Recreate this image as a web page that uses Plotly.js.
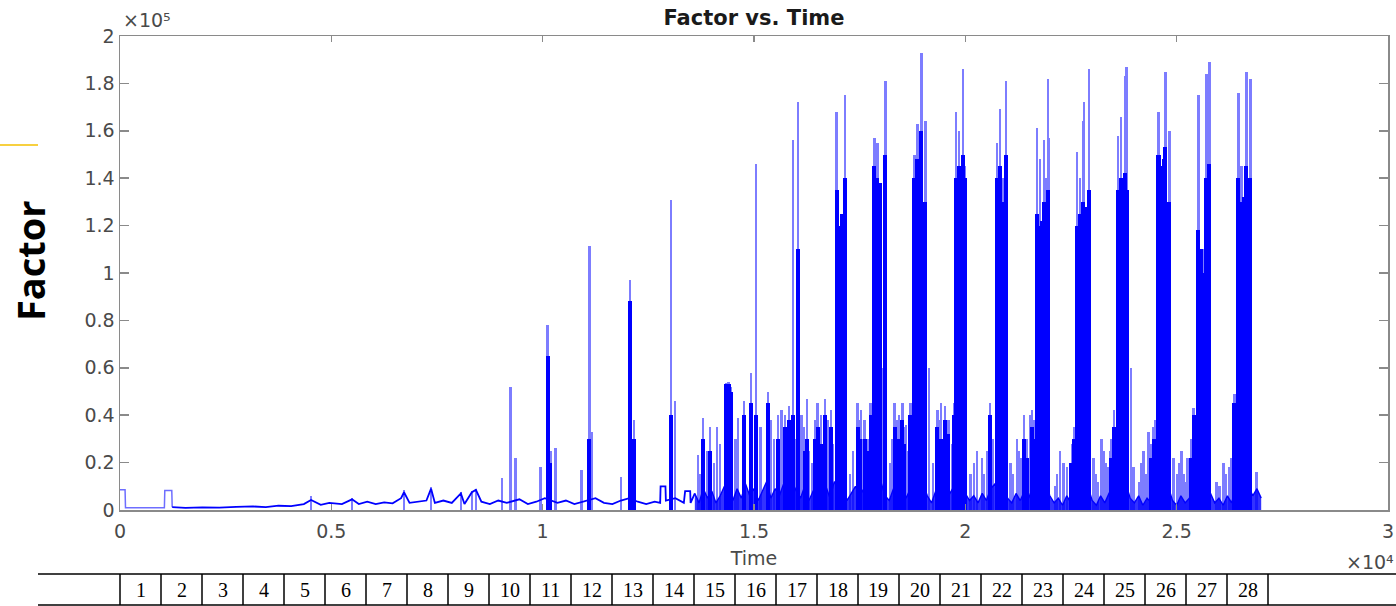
<!DOCTYPE html>
<html>
<head>
<meta charset="utf-8">
<script src="https://cdn.plot.ly/plotly-3.0.1.min.js"></script>
<style>
html,body{margin:0;padding:0;background:#fff;}
#chart{width:1396px;height:606px;}
</style>
</head>
<body>
<div id="chart"></div>
<script>
// ---------------- DATA ----------------
// first part of the recording (two small rectangular pulses)
const startTime = [0,120,130,500,1000,1050,1060,1225,1235];
const startFactor = [8500,8500,1000,900,900,900,8200,8200,1200];

// low baseline (early part of the recording)
const baseTime = [1235,1550,1950,2350,2750,3150,3450,3750,4050,4350,4520,4750,
  4950,5250,5490,5650,5850,6050,6250,6450,6650,6720,6850,7050,7250,7360,7450,7650,7850,8065,8150,8325,
  8420,8550,8750,8950,9150,9450,9650,9850,10050,10350,10550,10750,10950,11250,11450,11650,11850,12050,12250,12450,
  12650,12780,12790,12905,12915,13140,13340,13370,13490,13500,13600];
const baseFactor = [1200,900,1100,1000,1300,1500,1200,1800,1600,2500,4200,2200,
  3000,2500,4500,2500,3500,2500,3200,2800,5000,7500,3000,3500,4000,9000,3000,4000,3000,7000,2500,7500,
  8500,3500,2500,4000,3000,4500,2500,3500,5000,3000,4000,2500,3500,5000,3000,2500,4000,5000,3500,2500,
  3500,3000,10000,10000,4000,5000,3000,8000,8000,3000,7000];

// dense low-level noise (later part of the recording)
const noiseTime = [
  13600,13700,13800,13900,14000,14100,14200,14300,14400,14500,
  14600,14700,14800,14900,15000,15100,15200,15300,15400,15500,
  15600,15700,15800,15900,16000,16100,16200,16300,16400,16500,
  16600,16700,16800,16900,17000,17100,17200,17300,17400,17500,
  17600,17700,17800,17900,18000,18100,18200,18300,18400,18500,
  18600,18700,18800,18900,19000,19100,19200,19300,19400,19500,
  19600,19700,19800,19900,20000,20100,20200,20300,20400,20500,
  20600,20700,20800,20900,21000,21100,21200,21300,21400,21500,
  21600,21700,21800,21900,22000,22100,22200,22300,22400,22500,
  22600,22700,22800,22900,23000,23100,23200,23300,23400,23500,
  23600,23700,23800,23900,24000,24100,24200,24300,24400,24500,
  24600,24700,24800,24900,25000,25100,25200,25300,25400,25500,
  25600,25700,25800,25900,26000,26100,26200,26300,26400,26500,
  26600,26700,26800,26900,27000];
const noiseFactor = [
  7000,3000,9000,5000,8000,3000,6000,10000,7000,4000,
  9000,5000,11000,6000,9000,4000,8000,12000,5000,9000,
  6000,11000,7000,12000,8000,5000,10000,4000,8000,11000,
  6000,10000,5000,12000,9000,11000,4000,7000,10000,6000,
  9000,5000,11000,8000,12000,6000,4000,9000,6000,11000,
  5000,9000,12000,8000,11000,6000,3000,8000,5000,10000,
  6000,9000,12000,10000,7000,4000,6000,3000,7000,4000,
  9000,11000,8000,12000,5000,3000,7000,4000,8000,5000,
  10000,12000,8000,11000,6000,3000,5000,2000,6000,3000,
  9000,11000,8000,10000,4000,2000,6000,3000,7000,10000,
  12000,9000,11000,5000,3000,6000,2000,5000,3000,9000,
  11000,8000,10000,4000,2000,6000,3000,5000,9000,11000,
  8000,10000,7000,3000,5000,2000,6000,3000,9000,11000,
  8000,10000,6000,9000,5000];

// thin spikes (peak values)
const spikeTime = [4520,5490,6720,7360,8065,8325,8420,9030,9240,9360,
  9950,10115,10185,10305,10915,11105,11175,11860,12070,12165,13040,13135,13680,13795,13890,13960,14125,14340,14400,14455,
  14620,14760,14930,15045,15330,15480,15565,15650,15730,15830,15920,16035,16125,16250,16375,16505,16585,16675,16745,16815,
  16955,17025,17145,17275,17450,17535,17615,17685,17760,17850,17920,18025,18110,18225,18325,18425,18510,18600,18700,18795,
  18865,18960,19055,19140,19340,19420,19525,19620,19740,19785,19855,19950,19995,20120,20280,20395,20515,20585,20750,20820,
  20890,20960,21065,21220,21315,21385,21525,21575,21690,21765,21860,21915,21950,21975,22115,22235,22400,22485,22565,22635,
  22705,22780,22800,22920,23035,23145,23225,23315,23415,23510,23605,23675,23770,23815,23915,23980,24115,24215,24335,24455,
  24570,24645,24735,24830,24925,25015,25115,25210,25305,25400,25515,25635,25705,25775,25940,26030,26105,26245,26365,26460,
  26530,26650,26745,26885,
  13730,14050,14200,14560,15150,15400,15990,16190,16300,16440,
  16550,16870,17350,17500,17580,17720,18270,18380,18470,18560,
  18650,19230,19380,19480,19570,19680,20200,20440,20640,21120,
  21270,21450,21620,22170,22320,22520,23090,23270,23360,23460,
  24160,24270,24390,24500,25060,25160,25260,25350,25990,26160,
  26300,26410];
const spikeFactor = [6000,5000,8500,9700,7500,8000,9000,13500,52000,22000,
  18000,78000,25000,26000,17000,111500,33000,14000,97000,38000,131000,46000,23000,39000,25000,35000,35000,53500,54000,52000,
  39000,46000,58000,146000,50000,30000,40000,42000,40000,44000,156000,172000,40000,47000,20000,45000,40000,47000,38000,42000,
  168000,120000,175000,15000,45000,42000,38000,30000,45000,157000,155000,60000,181000,20000,45000,40000,45000,36000,45000,150000,
  163000,193000,164000,60000,42000,45000,44000,38000,45000,168000,160000,186000,145000,15000,25000,22000,25000,45000,155000,169000,
  140000,181000,20000,30000,22000,40000,40000,42000,161000,148000,156000,140000,182000,157000,10000,25000,18000,12000,35000,151000,
  140000,164000,172000,186000,22000,12000,30000,20000,25000,42000,158000,166000,183000,187000,60000,18000,12000,25000,33000,35000,
  168000,145000,185000,160000,22000,15000,25000,12000,20000,43000,175000,110000,184000,189000,12000,10000,20000,18000,49000,176000,
  145000,185000,182000,16000,
  15000,20000,28000,30000,35000,38000,30000,35000,25000,38000,
  30000,28000,25000,38000,30000,25000,30000,38000,28000,35000,
  25000,20000,38000,30000,38000,28000,20000,15000,30000,15000,
  25000,30000,38000,15000,20000,28000,15000,25000,18000,30000,
  20000,15000,28000,38000,20000,15000,22000,30000,10000,15000,
  22000,40000];

// dense (solid) parts of the bursts
const coreTime = [10115,10185,11105,12070,12165,13040,13795,13960,14340,14400,14455,14760,14930,15045,15330,15565,15730,15830,15920,16035,
  16250,16505,16675,16815,16955,17025,17085,17145,17450,17615,17760,17850,17920,17990,18110,18325,18510,18700,18795,18865,
  18960,19055,19340,19525,19740,19785,19855,19920,19950,19995,20585,20750,20820,20890,20960,21385,21575,21690,21765,21810,
  21860,21950,22565,22635,22705,22780,22860,22920,23510,23605,23675,23720,23770,23815,24455,24570,24645,24690,24735,24830,
  25400,25515,25580,25635,25705,25775,26365,26460,26530,26590,26650,26745,
  16200,16440,16600,17500,17680,18400,18560,19420,19600,21450,
  21620,22500,23450,24400,25350,26410];
const coreFactor = [65000,20000,30000,88000,30000,40000,30000,25000,53000,53000,50000,40000,45000,40000,45000,30000,35000,38000,40000,110000,
  30000,35000,40000,35000,135000,120000,125000,140000,35000,30000,40000,145000,140000,138000,150000,35000,38000,40000,140000,148000,
  160000,130000,35000,38000,40000,140000,145000,140000,150000,140000,40000,140000,145000,130000,150000,30000,35000,125000,120000,122000,
  130000,135000,30000,120000,125000,130000,128000,135000,35000,135000,140000,138000,142000,135000,30000,150000,145000,148000,153000,130000,
  40000,118000,110000,100000,140000,146000,45000,140000,130000,132000,145000,140000,
  25000,30000,28000,30000,25000,30000,28000,30000,32000,22000,
  30000,20000,22000,22000,22000,35000];

// axis tick labels and table labels
const xTickVals = [0,5000,10000,15000,20000,25000,30000];
const xTickText = ['0','0.5','1','1.5','2','2.5','3'];
const yTickVals = [0,20000,40000,60000,80000,100000,120000,140000,160000,180000,200000];
const yTickText = ['0','0.2','0.4','0.6','0.8','1','1.2','1.4','1.6','1.8','2'];
const cellLabels = ['1','2','3','4','5','6','7','8','9','10','11','12','13','14','15','16','17','18','19','20','21','22','23','24','25','26','27','28'];

// ---------------- LAYOUT GEOMETRY ----------------
const W = 1396, H = 606, ML = 120, MR = 8, MT = 36, MB = 96;
const PW = W - ML - MR, PH = H - MT - MB;
const px2x = p => (p - ML) / PW;
const py2y = p => (H - MB - p) / PH;

const tickFont = {family: 'DejaVu Sans, Liberation Sans, Arial, sans-serif', size: 19, color: '#4a4a4a'};

const traces = [
  {
    type: 'bar', x: spikeTime, y: spikeFactor, width: 55,
    marker: {color: 'rgb(125,125,255)', line: {width: 0}},
    hoverinfo: 'skip', showlegend: false
  },
  {
    type: 'bar', x: coreTime, y: coreFactor, width: 95,
    marker: {color: '#0000ff', line: {width: 0}},
    hoverinfo: 'skip', showlegend: false
  },
  {
    type: 'scatter', mode: 'lines', x: startTime, y: startFactor,
    line: {color: 'rgb(110,110,255)', width: 1.5},
    hoverinfo: 'skip', showlegend: false
  },
  {
    type: 'scatter', mode: 'lines', x: baseTime, y: baseFactor,
    line: {color: '#0000ff', width: 1.8},
    hoverinfo: 'skip', showlegend: false
  },
  {
    type: 'scatter', mode: 'lines', x: noiseTime, y: noiseFactor,
    line: {color: '#0000ff', width: 1.4},
    fill: 'tozeroy', fillcolor: 'rgba(0,0,255,0.8)',
    hoverinfo: 'skip', showlegend: false
  }
];

const shapes = [];
const annotations = [];

// yellow accent line on the left
shapes.push({type: 'line', xref: 'paper', yref: 'paper', x0: px2x(0), x1: px2x(38), y0: py2y(145), y1: py2y(145),
  line: {color: '#f5c000', width: 1.5}});

// table below the chart
const tblLeft = 38, tblRight = 1396, tblTop = 574, tblBottom = 605, cellStart = 120, cellW = 41;
shapes.push({type: 'line', xref: 'paper', yref: 'paper', x0: px2x(tblLeft), x1: px2x(tblRight), y0: py2y(tblTop), y1: py2y(tblTop),
  line: {color: '#000', width: 1.5}});
shapes.push({type: 'line', xref: 'paper', yref: 'paper', x0: px2x(tblLeft), x1: px2x(tblRight), y0: py2y(tblBottom), y1: py2y(tblBottom),
  line: {color: '#000', width: 1.5}});
for (let i = 0; i <= cellLabels.length; i++) {
  const xp = cellStart + i * cellW;
  shapes.push({type: 'line', xref: 'paper', yref: 'paper', x0: px2x(xp), x1: px2x(xp), y0: py2y(tblTop), y1: py2y(tblBottom),
    line: {color: '#000', width: 1.5}});
}
cellLabels.forEach((lab, i) => {
  annotations.push({xref: 'paper', yref: 'paper', x: px2x(cellStart + (i + 0.5) * cellW), y: py2y(590),
    text: lab, showarrow: false, xanchor: 'center', yanchor: 'middle',
    font: {family: 'Liberation Serif, DejaVu Serif, serif', size: 20, color: '#000'}});
});

// exponent labels
annotations.push({xref: 'paper', yref: 'paper', x: px2x(121), y: py2y(20), text: '×10⁵', showarrow: false,
  xanchor: 'left', yanchor: 'middle', font: tickFont});
annotations.push({xref: 'paper', yref: 'paper', x: px2x(1396), y: py2y(562), text: '×10⁴', showarrow: false,
  xanchor: 'right', yanchor: 'middle', font: tickFont});

// big "Factor" label
annotations.push({xref: 'paper', yref: 'paper', x: px2x(30), y: py2y(261), text: '<b>Factor</b>', showarrow: false,
  textangle: -90, xanchor: 'center', yanchor: 'middle',
  font: {family: 'Open Sans, Noto Sans, sans-serif', size: 38, color: '#000'}});

const layout = {
  width: W, height: H,
  margin: {l: ML, r: MR, t: MT, b: MB, pad: 0},
  paper_bgcolor: '#fff', plot_bgcolor: '#fff',
  barmode: 'overlay', bargap: 0,
  title: {text: '<b>Factor vs. Time</b>', xref: 'paper', x: 0.5, xanchor: 'center',
    yref: 'container', y: 1 - 18 / H, yanchor: 'middle',
    font: {family: 'DejaVu Sans, Liberation Sans, Arial, sans-serif', size: 21, color: '#1a1a1a'}},
  xaxis: {
    range: [0, 30000], tickmode: 'array', tickvals: xTickVals, ticktext: xTickText,
    ticks: 'inside', ticklen: 6, tickwidth: 1.5, tickcolor: '#8a8a8a',
    showline: true, linecolor: '#8a8a8a', linewidth: 1.5, mirror: 'ticks',
    showgrid: false, zeroline: false, tickfont: tickFont, ticklabelstandoff: 4,
    ticklabeloverflow: 'allow',
    title: {text: 'Time', font: tickFont, standoff: 10}
  },
  yaxis: {
    range: [0, 200000], tickmode: 'array', tickvals: yTickVals, ticktext: yTickText,
    ticks: 'inside', ticklen: 9, tickwidth: 1.5, tickcolor: '#8a8a8a',
    showline: true, linecolor: '#8a8a8a', linewidth: 1.5, mirror: 'ticks',
    showgrid: false, zeroline: false, tickfont: tickFont
  },
  shapes: shapes,
  annotations: annotations
};

Plotly.newPlot('chart', traces, layout, {displayModeBar: false, staticPlot: true});
</script>
</body>
</html>
